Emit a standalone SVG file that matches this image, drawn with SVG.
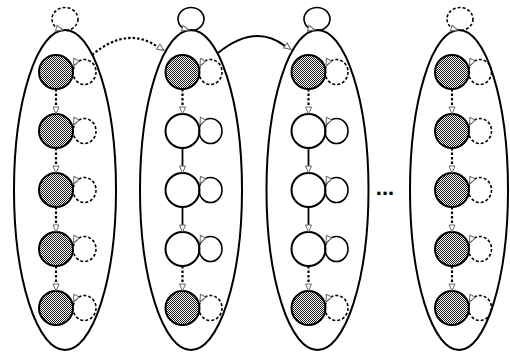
<svg xmlns="http://www.w3.org/2000/svg" xmlns:xlink="http://www.w3.org/1999/xlink" width="510" height="352" viewBox="0 0 510 352">
<defs>
<pattern id="chk" width="2" height="2" patternUnits="userSpaceOnUse">
<rect width="2" height="2" fill="#fff"/>
<rect width="1" height="1" fill="#1a1a1a"/>
<rect x="1" y="1" width="1" height="1" fill="#1a1a1a"/>
</pattern>
<polygon id="ah" points="0,0 -7,-3 -7,3" fill="#fff" stroke="#666" stroke-width="1"/>
</defs>
<style>
.cl{fill:none;stroke:#000;stroke-width:2}
.sh{fill:url(#chk);stroke:#000;stroke-width:2}
.wh{fill:#fff;stroke:#000;stroke-width:2}
.ld{fill:none;stroke:#000;stroke-width:1.6;stroke-dasharray:3,2}
.ls{fill:none;stroke:#000;stroke-width:1.6}
.ed{fill:none;stroke:#000;stroke-width:2.2;stroke-dasharray:2.5,2}
.es{fill:none;stroke:#000;stroke-width:1.8}
.dots{font-family:"Liberation Sans",Arial,sans-serif;font-size:22px;font-weight:bold;fill:#000}
</style>

<g id="column1">
<ellipse class="cl" cx="65" cy="190" rx="51" ry="160"/>
<ellipse class="ld" cx="65" cy="19" rx="13" ry="11.5"/>
<use xlink:href="#ah" transform="translate(63,30) rotate(15)"/>
</g>
<g id="column2">
<ellipse class="cl" cx="191" cy="190" rx="51" ry="160"/>
<ellipse class="ls" cx="191" cy="19" rx="13" ry="11.5"/>
<use xlink:href="#ah" transform="translate(189,30) rotate(15)"/>
</g>
<g id="column3">
<ellipse class="cl" cx="317.5" cy="190" rx="51" ry="160"/>
<ellipse class="ls" cx="317" cy="19" rx="13" ry="11.5"/>
<use xlink:href="#ah" transform="translate(315,30) rotate(15)"/>
</g>
<g id="column4">
<ellipse class="cl" cx="459" cy="190" rx="49" ry="160"/>
<ellipse class="ld" cx="460" cy="19" rx="13" ry="11.5"/>
<use xlink:href="#ah" transform="translate(458,30) rotate(15)"/>
</g>

<!-- column 1 nodes -->
<g id="a1"><circle class="sh" cx="56" cy="72" r="17"/><ellipse class="ld" cx="84.5" cy="72" rx="11.5" ry="12.5"/><use xlink:href="#ah" transform="translate(73.5,66) rotate(116)"/></g>
<g id="a2"><circle class="sh" cx="56" cy="131" r="17"/><ellipse class="ld" cx="84.5" cy="131" rx="11.5" ry="12.5"/><use xlink:href="#ah" transform="translate(73.5,125) rotate(116)"/></g>
<g id="a3"><circle class="sh" cx="56" cy="190" r="17"/><ellipse class="ld" cx="84.5" cy="190" rx="11.5" ry="12.5"/><use xlink:href="#ah" transform="translate(73.5,184) rotate(116)"/></g>
<g id="a4"><circle class="sh" cx="56" cy="249" r="17"/><ellipse class="ld" cx="84.5" cy="249" rx="11.5" ry="12.5"/><use xlink:href="#ah" transform="translate(73.5,243) rotate(116)"/></g>
<g id="a5"><circle class="sh" cx="56" cy="308" r="17"/><ellipse class="ld" cx="84.5" cy="308" rx="11.5" ry="12.5"/><use xlink:href="#ah" transform="translate(73.5,302) rotate(116)"/></g>

<!-- column 2 nodes -->
<g id="b1"><circle class="sh" cx="182.5" cy="72" r="17"/><ellipse class="ld" cx="210.5" cy="72" rx="11.5" ry="12.5"/><use xlink:href="#ah" transform="translate(200,66) rotate(116)"/></g>
<g id="b2"><circle class="wh" cx="182.5" cy="131" r="17"/><ellipse class="ls" cx="210.5" cy="131" rx="11.5" ry="12.5"/><use xlink:href="#ah" transform="translate(200,125) rotate(116)"/></g>
<g id="b3"><circle class="wh" cx="182.5" cy="190" r="17"/><ellipse class="ls" cx="210.5" cy="190" rx="11.5" ry="12.5"/><use xlink:href="#ah" transform="translate(200,184) rotate(116)"/></g>
<g id="b4"><circle class="wh" cx="182.5" cy="249" r="17"/><ellipse class="ls" cx="210.5" cy="249" rx="11.5" ry="12.5"/><use xlink:href="#ah" transform="translate(200,243) rotate(116)"/></g>
<g id="b5"><circle class="sh" cx="182.5" cy="308" r="17"/><ellipse class="ld" cx="210.5" cy="308" rx="11.5" ry="12.5"/><use xlink:href="#ah" transform="translate(200,302) rotate(116)"/></g>

<!-- column 3 nodes -->
<g id="c1"><circle class="sh" cx="308.5" cy="72" r="17"/><ellipse class="ld" cx="336.5" cy="72" rx="11.5" ry="12.5"/><use xlink:href="#ah" transform="translate(326,66) rotate(116)"/></g>
<g id="c2"><circle class="wh" cx="308.5" cy="131" r="17"/><ellipse class="ls" cx="336.5" cy="131" rx="11.5" ry="12.5"/><use xlink:href="#ah" transform="translate(326,125) rotate(116)"/></g>
<g id="c3"><circle class="wh" cx="308.5" cy="190" r="17"/><ellipse class="ls" cx="336.5" cy="190" rx="11.5" ry="12.5"/><use xlink:href="#ah" transform="translate(326,184) rotate(116)"/></g>
<g id="c4"><circle class="wh" cx="308.5" cy="249" r="17"/><ellipse class="ls" cx="336.5" cy="249" rx="11.5" ry="12.5"/><use xlink:href="#ah" transform="translate(326,243) rotate(116)"/></g>
<g id="c5"><circle class="sh" cx="308.5" cy="308" r="17"/><ellipse class="ld" cx="336.5" cy="308" rx="11.5" ry="12.5"/><use xlink:href="#ah" transform="translate(326,302) rotate(116)"/></g>

<!-- column 4 nodes -->
<g id="d1"><circle class="sh" cx="452" cy="72" r="17"/><ellipse class="ld" cx="480" cy="72" rx="11.5" ry="12.5"/><use xlink:href="#ah" transform="translate(469.5,66) rotate(116)"/></g>
<g id="d2"><circle class="sh" cx="452" cy="131" r="17"/><ellipse class="ld" cx="480" cy="131" rx="11.5" ry="12.5"/><use xlink:href="#ah" transform="translate(469.5,125) rotate(116)"/></g>
<g id="d3"><circle class="sh" cx="452" cy="190" r="17"/><ellipse class="ld" cx="480" cy="190" rx="11.5" ry="12.5"/><use xlink:href="#ah" transform="translate(469.5,184) rotate(116)"/></g>
<g id="d4"><circle class="sh" cx="452" cy="249" r="17"/><ellipse class="ld" cx="480" cy="249" rx="11.5" ry="12.5"/><use xlink:href="#ah" transform="translate(469.5,243) rotate(116)"/></g>
<g id="d5"><circle class="sh" cx="452" cy="308" r="17"/><ellipse class="ld" cx="480" cy="308" rx="11.5" ry="12.5"/><use xlink:href="#ah" transform="translate(469.5,302) rotate(116)"/></g>

<g id="ellipsis"><text class="dots" x="385" y="195" text-anchor="middle">...</text></g>

<g id="connectors">
<path class="ed" d="M92,55 Q127,25.5 158,47"/>
<use xlink:href="#ah" transform="translate(164,50.5) rotate(34)"/>
<path class="es" d="M218,53 Q255,23 285,46"/>
<use xlink:href="#ah" transform="translate(291,49.5) rotate(36)"/>

<path class="ed" d="M56,89 V107"/><use xlink:href="#ah" transform="translate(56,114) rotate(90)"/>
<path class="ed" d="M56,148 V166"/><use xlink:href="#ah" transform="translate(56,173) rotate(90)"/>
<path class="ed" d="M56,207 V225"/><use xlink:href="#ah" transform="translate(56,232) rotate(90)"/>
<path class="ed" d="M56,266 V284"/><use xlink:href="#ah" transform="translate(56,291) rotate(90)"/>

<path class="ed" d="M182.5,89 V107"/><use xlink:href="#ah" transform="translate(182.5,114) rotate(90)"/>
<path class="es" d="M182.5,148 V166"/><use xlink:href="#ah" transform="translate(182.5,173) rotate(90)"/>
<path class="es" d="M182.5,207 V225"/><use xlink:href="#ah" transform="translate(182.5,232) rotate(90)"/>
<path class="ed" d="M182.5,266 V284"/><use xlink:href="#ah" transform="translate(182.5,291) rotate(90)"/>

<path class="ed" d="M308.5,89 V107"/><use xlink:href="#ah" transform="translate(308.5,114) rotate(90)"/>
<path class="es" d="M308.5,148 V166"/><use xlink:href="#ah" transform="translate(308.5,173) rotate(90)"/>
<path class="es" d="M308.5,207 V225"/><use xlink:href="#ah" transform="translate(308.5,232) rotate(90)"/>
<path class="ed" d="M308.5,266 V284"/><use xlink:href="#ah" transform="translate(308.5,291) rotate(90)"/>

<path class="ed" d="M452,89 V107"/><use xlink:href="#ah" transform="translate(452,114) rotate(90)"/>
<path class="ed" d="M452,148 V166"/><use xlink:href="#ah" transform="translate(452,173) rotate(90)"/>
<path class="ed" d="M452,207 V225"/><use xlink:href="#ah" transform="translate(452,232) rotate(90)"/>
<path class="ed" d="M452,266 V284"/><use xlink:href="#ah" transform="translate(452,291) rotate(90)"/>
</g>
</svg>
